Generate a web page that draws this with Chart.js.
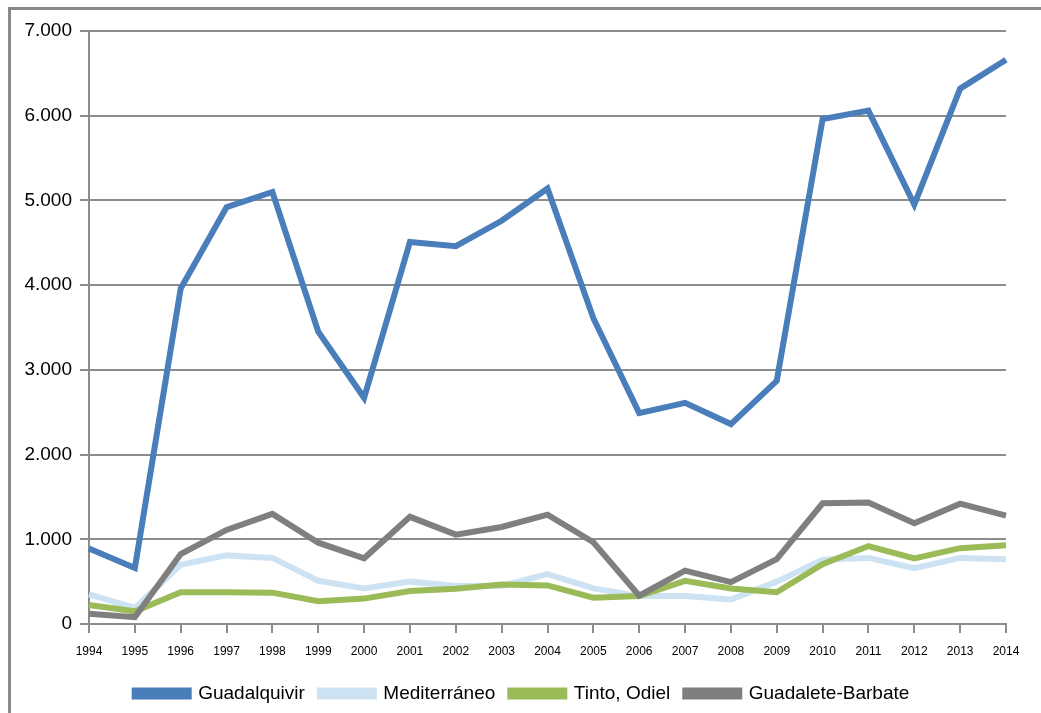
<!DOCTYPE html>
<html>
<head>
<meta charset="utf-8">
<script src="https://cdn.jsdelivr.net/npm/chart.js@4/dist/chart.umd.min.js"></script>
<style>
  html, body { margin: 0; padding: 0; background: #fff; }
  #wrap { position: relative; width: 1041px; height: 713px; overflow: hidden; }
  #frame { position: absolute; left: 8px; top: 7px; width: 1100px; height: 800px;
           border-top: 3px solid #8a8a8a; border-left: 3px solid #8a8a8a; }
  #chart { position: absolute; left: 0; top: 0; }
</style>
</head>
<body>
<div id="wrap">
  <div id="frame"></div>
  <canvas id="chart" width="1041" height="713"></canvas>
</div>
<script>
const years = ["1994","1995","1996","1997","1998","1999","2000","2001","2002","2003","2004",
               "2005","2006","2007","2008","2009","2010","2011","2012","2013","2014"];

const guadalquivir = [890, 660, 3960, 4920, 5100, 3450, 2670, 4510, 4460, 4760, 5140,
                      3610, 2490, 2610, 2360, 2870, 5960, 6060, 4950, 6320, 6660];
const mediterraneo = [350, 190, 700, 810, 780, 510, 420, 500, 450, 450, 590,
                      420, 330, 330, 290, 500, 760, 780, 660, 780, 765];
const tintoOdiel = [225, 150, 375, 375, 370, 270, 300, 390, 415, 465, 455,
                    310, 330, 510, 420, 375, 705, 920, 775, 895, 930];
const guadaleteBarbate = [120, 80, 825, 1110, 1300, 960, 775, 1265, 1055, 1145, 1290,
                          965, 335, 630, 495, 765, 1425, 1435, 1190, 1420, 1280];

const gridGray = "#8c8c8c";
const fontFamily = "Liberation Sans, Arial, sans-serif";

// nudge the legend so it is centred on the page like the original
const legendShift = {
    id: "legendShift",
    afterLayout(chart) {
        chart.legend.left += 19;
        chart.legend.right += 19;
    }
};

const ctx = document.getElementById("chart").getContext("2d");

new Chart(ctx, {
    type: "line",
    data: {
        labels: years,
        datasets: [
            { label: "Guadalquivir", data: guadalquivir, borderColor: "#4a7ebb", backgroundColor: "#4a7ebb", order: 4 },
            { label: "Mediterráneo", data: mediterraneo, borderColor: "#cde3f4", backgroundColor: "#cde3f4", order: 3 },
            { label: "Tinto, Odiel", data: tintoOdiel, borderColor: "#9bbb59", backgroundColor: "#9bbb59", order: 2 },
            { label: "Guadalete-Barbate", data: guadaleteBarbate, borderColor: "#7f7f7f", backgroundColor: "#7f7f7f", order: 1 }
        ]
    },
    plugins: [legendShift],
    options: {
        responsive: false,
        animation: false,
        devicePixelRatio: 1,
        elements: {
            line: { borderWidth: 6, tension: 0, borderCapStyle: "butt", borderJoinStyle: "miter" },
            point: { radius: 0, hoverRadius: 0 }
        },
        layout: { padding: { left: 0, top: 31, right: 35, bottom: 0 } },
        plugins: {
            tooltip: { enabled: false },
            legend: {
                position: "bottom",
                labels: {
                    sort: (a, b) => a.datasetIndex - b.datasetIndex,
                    boxWidth: 54,
                    boxHeight: 6,
                    padding: 15,
                    color: "#000",
                    font: { family: fontFamily, size: 19 }
                }
            }
        },
        scales: {
            x: {
                offset: false,
                afterFit: s => { s.height = 45; },
                grid: { drawOnChartArea: false, drawTicks: true, tickLength: 9, color: gridGray, lineWidth: 2 },
                border: { display: true, color: gridGray, width: 2 },
                ticks: { color: "#000", maxRotation: 0, autoSkip: false, padding: 11,
                         font: { family: fontFamily, size: 12 } }
            },
            y: {
                min: 0,
                max: 7000,
                afterFit: s => { s.width = 89; },
                grid: { color: gridGray, lineWidth: 2, tickLength: 9, drawTicks: true },
                border: { display: true, color: gridGray, width: 2 },
                ticks: {
                    stepSize: 1000,
                    color: "#000",
                    padding: 8,
                    font: { family: fontFamily, size: 19 },
                    callback: v => v === 0 ? "0" : (v / 1000).toFixed(3)
                }
            }
        }
    }
});
</script>
</body>
</html>
